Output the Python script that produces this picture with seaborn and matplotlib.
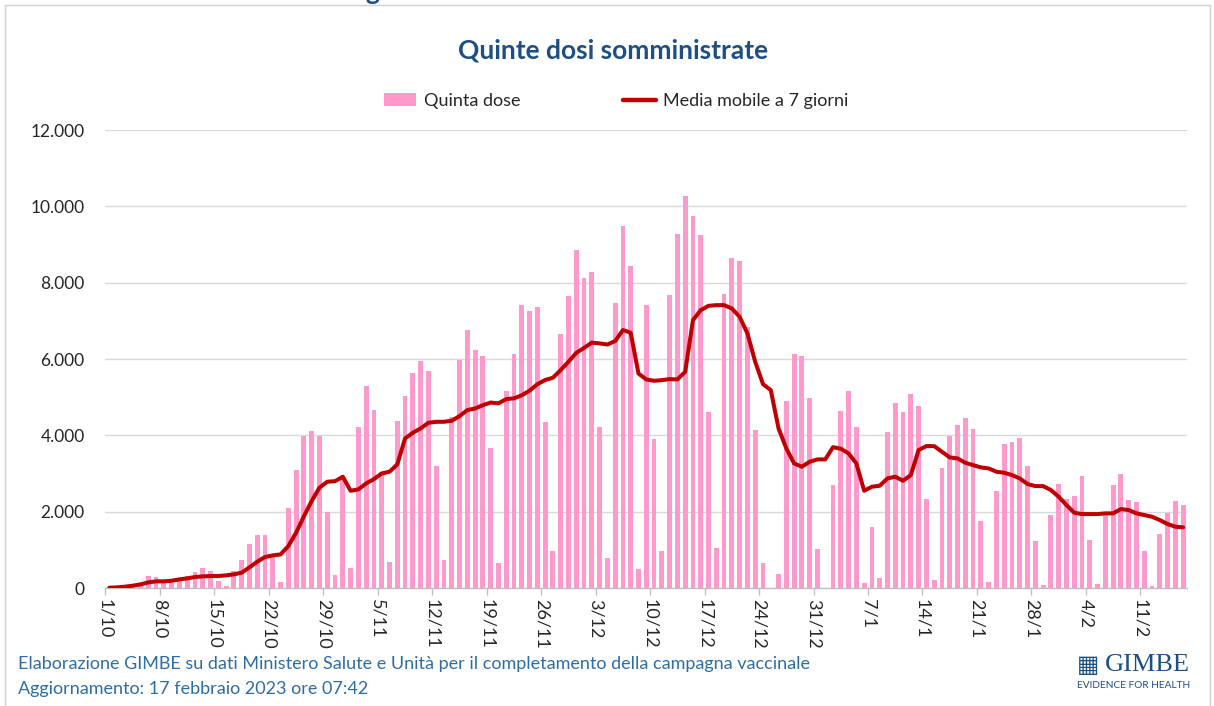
import pandas as pd
import matplotlib.pyplot as plt
import seaborn as sns
from matplotlib.patches import Patch, Rectangle
from matplotlib.lines import Line2D

# Dati: dosi giornaliere dal 1/10/2022 al 16/2/2023
quinta_dose = [
    30, 20, 50, 80, 90, 320, 280, 130, 150, 250, 305, 420, 525, 445, 175, 50,
    445, 730, 1160, 1390, 1390, 850, 160, 2100, 3090, 3990, 4120, 3990, 1980,
    350, 2850, 525, 4220, 5290, 4660, 3050, 680, 4370, 5020, 5640, 5940, 5690,
    3210, 730, 4490, 5970, 6760, 6240, 6090, 3680, 650, 5160, 6140, 7410, 7250,
    7370, 4350, 980, 6650, 7650, 8860, 8120, 8280, 4220, 780, 7460, 9480, 8430,
    490, 7410, 3910, 960, 7670, 9270, 10270, 9760, 9250, 4620, 1050, 7700, 8640,
    8560, 6850, 4140, 660, 0, 380, 4910, 6120, 6080, 4990, 1020, 0, 2690, 4640,
    5160, 4210, 120, 1600, 260, 4100, 4850, 4620, 5090, 4770, 2330, 220, 3150,
    3990, 4280, 4460, 4160, 1760, 150, 2540, 3770, 3830, 3920, 3200, 1220, 80,
    1910, 2720, 2320, 2410, 2930, 1270, 100, 1910, 2700, 2990, 2310, 2250, 970,
    60, 1420, 1960, 2280, 2170,
]

media_mobile = [
    9, 17, 35, 61, 96, 148, 175, 175, 192, 227, 253, 288, 306, 314, 314, 332,
    358, 402, 541, 690, 812, 855, 880, 1100, 1450, 1880, 2280, 2630, 2785, 2800,
    2916, 2549, 2584, 2741, 2855, 3003, 3047, 3239, 3920, 4068, 4182, 4330,
    4356, 4356, 4382, 4505, 4662, 4705, 4790, 4860, 4840, 4950, 4970, 5050,
    5170, 5340, 5450, 5510, 5710, 5930, 6160, 6290, 6430, 6410, 6380, 6470,
    6760, 6690, 5620, 5465, 5430, 5447, 5474, 5465, 5666, 7019, 7281, 7394,
    7412, 7412, 7324, 7106, 6670, 5928, 5343, 5186, 4182, 3658, 3265, 3178,
    3309, 3370, 3370, 3690, 3650, 3527, 3265, 2549, 2654, 2680, 2872, 2916,
    2811, 2959, 3614, 3719, 3719, 3571, 3422, 3396, 3282, 3221, 3160, 3134,
    3047, 3021, 2959, 2872, 2724, 2671, 2671, 2567, 2392, 2174, 1973, 1938,
    1938, 1938, 1956, 1956, 2069, 2043, 1956, 1912, 1868, 1781, 1676, 1606, 1589,
]

etichette_x = ['1/10', '8/10', '15/10', '22/10', '29/10', '5/11', '12/11', '19/11',
               '26/11', '3/12', '10/12', '17/12', '24/12', '31/12', '7/1', '14/1',
               '21/1', '28/1', '4/2', '11/2']

valori_y = [0, 2000, 4000, 6000, 8000, 10000, 12000]

giorni = list(range(len(quinta_dose)))
df = pd.DataFrame({'giorno': giorni, 'dosi': quinta_dose, 'media': media_mobile})

rosa = '#ff99cc'
rosso = '#c00000'
blu_titolo = '#1b4f86'
blu_note = '#2e6da4'

sns.set_style('white')
plt.rcParams['font.family'] = ['Lato', 'DejaVu Sans']

fig = plt.figure(figsize=(12.14, 7.06), dpi=100)
ax = fig.add_axes([0.0869, 0.1671, 0.8909, 0.6487])

sns.barplot(data=df, x='giorno', y='dosi', color=rosa, saturation=1, width=0.62,
            native_scale=True, errorbar=None, linewidth=0, ax=ax, zorder=2)
sns.lineplot(data=df, x='giorno', y='media', color=rosso, linewidth=2.9, ax=ax, zorder=3)

ax.set_xlim(-0.5, len(giorni) - 0.5)
ax.set_ylim(0, 12000)
ax.set_xlabel('')
ax.set_ylabel('')

# assi e griglia stile Excel
ax.set_yticks(valori_y)
ax.set_yticklabels([f'{v:,}'.replace(',', '.') for v in valori_y])
ax.yaxis.grid(True, color='#d9d9d9', linewidth=1, zorder=0)
ax.set_axisbelow(True)
ax.set_xticks([i * 7 - 0.5 for i in range(len(etichette_x))])
ax.set_xticklabels(etichette_x, rotation=270)
ax.tick_params(axis='x', length=5, width=1, color='#bfbfbf', labelsize=13, pad=3,
               labelcolor='#262626', bottom=True)
ax.tick_params(axis='y', length=0, labelsize=12.5, pad=15, labelcolor='#262626')
for lato in ['top', 'right', 'left']:
    ax.spines[lato].set_visible(False)
ax.spines['bottom'].set_color('#bfbfbf')
ax.spines['bottom'].set_linewidth(1)

# titolo e legenda
fig.text(0.505, 0.928, 'Quinte dosi somministrate', ha='center', va='center',
         fontsize=19, fontweight='bold', color=blu_titolo)
fig.text(372 / 1214, 1.0, 'g', ha='center', va='baseline', fontsize=19,
         fontweight='bold', color=blu_titolo)

maniglie = [Patch(facecolor=rosa, edgecolor='none'),
            Line2D([0], [0], color=rosso, linewidth=3.2)]
fig.legend(maniglie, ['Quinta dose', 'Media mobile a 7 giorni'], loc='center',
           bbox_to_anchor=(616 / 1214, 1 - 101 / 706), ncol=2, frameon=False,
           fontsize=13, columnspacing=5.7, handlelength=1.8, handletextpad=0.4)

# note in basso
fig.text(0.0148, 1 - 664 / 706, 'Elaborazione GIMBE su dati Ministero Salute e Unità per il completamento della campagna vaccinale',
         ha='left', va='center', fontsize=13, color=blu_note)
fig.text(0.0148, 1 - 689 / 706, 'Aggiornamento: 17 febbraio 2023 ore 07:42',
         ha='left', va='center', fontsize=13, color=blu_note)

# logo GIMBE
fig.text(1190 / 1214, 1 - 665 / 706, 'GIMBE', ha='right', va='center', fontsize=19,
         family='Liberation Serif', color=blu_titolo)
fig.text(1088 / 1214, 1 - 665 / 706, '▦', ha='center', va='center', fontsize=17,
         family='DejaVu Sans', color=blu_titolo)
fig.text(1190 / 1214, 1 - 685 / 706, 'EVIDENCE FOR HEALTH', ha='right', va='center',
         fontsize=7.3, color=blu_titolo)

# cornice grigia
fig.patches.append(Rectangle((4.5 / 1214, -0.05), 1205 / 1214, 1.05 - 5 / 706,
                             transform=fig.transFigure, fill=False,
                             edgecolor='#d0d0d0', linewidth=1))

fig.savefig('out.png', dpi=100)
